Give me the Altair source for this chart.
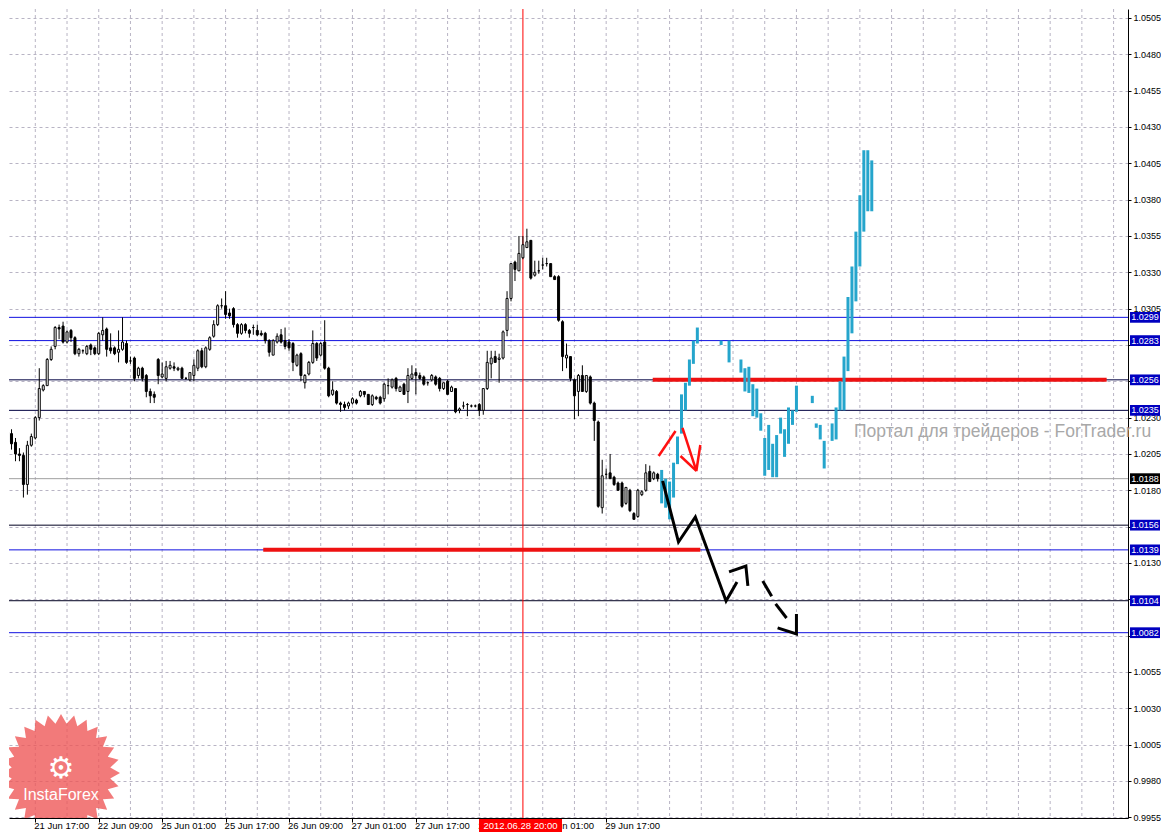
import math
import altair as alt
import pandas as pd

# ---------------- data ----------------
CANDLE_FIRST_IDX = -7  # bar index of first visible H1 candle (0 = 21 Jun 17:00)

opens = [1.0213,1.0219,1.0213,1.0205,1.0204,1.0184,1.0211,1.0216,1.0230,1.0249,
         1.0252,1.0270,1.0279,1.0292,1.0293,1.0282,1.0290,1.0285,1.0274,1.0276,
         1.0274,1.0280,1.0278,1.0274,1.0287,1.0291,1.0278,1.0278,1.0275,1.0277,
         1.0281,1.0269,1.0271,1.0259,1.0264,1.0259,1.0248,1.0246,1.0270,1.0258,
         1.0257,1.0264,1.0265,1.0263,1.0264,1.0257,1.0256,1.0259,1.0264,1.0276,
         1.0265,1.0277,1.0286,1.0294,1.0307,1.0307,1.0302,1.0305,1.0294,1.0288,
         1.0294,1.0290,1.0292,1.0290,1.0288,1.0288,1.0283,1.0273,1.0282,1.0287,
         1.0283,1.0282,1.0281,1.0266,1.0274,1.0254,1.0260,1.0268,1.0281,1.0273,
         1.0282,1.0264,1.0246,1.0248,1.0240,1.0239,1.0238,1.0240,1.0242,1.0245,
         1.0248,1.0246,1.0239,1.0244,1.0244,1.0243,1.0252,1.0251,1.0257,1.0248,
         1.0253,1.0248,1.0257,1.0261,1.0259,1.0258,1.0254,1.0256,1.0258,1.0257,
         1.0250,1.0255,1.0248,1.0250,1.0235,1.0238,1.0239,1.0238,1.0238,1.0239,
         1.0235,1.0250,1.0267,1.0272,1.0270,1.0271,1.0290,1.0312,1.0337,1.0331,
         1.0340,1.0347,1.0352,1.0328,1.0331,1.0335,1.0336,1.0336,1.0327,1.0327,
         1.0296,1.0271,1.0272,1.0256,1.0248,1.0259,1.0248,1.0258,1.0240,1.0227,
         1.0168,1.0191,1.0192,1.0189,1.0185,1.0185,1.0171,1.0180,1.0164,1.0162,
         1.0177,1.0180,1.0193,1.0188,1.0191]

highs = [1.0224,1.0222,1.0216,1.0209,1.0206,1.0214,1.0219,1.0231,1.0264,1.0253,
         1.0271,1.0279,1.0293,1.0294,1.0296,1.0290,1.0291,1.0286,1.0278,1.0277,
         1.0280,1.0281,1.0279,1.0289,1.0299,1.0292,1.0288,1.0279,1.0290,1.0299,
         1.0283,1.0272,1.0272,1.0265,1.0265,1.0260,1.0250,1.0248,1.0271,1.0268,
         1.0269,1.0269,1.0268,1.0265,1.0265,1.0258,1.0261,1.0270,1.0277,1.0278,
         1.0279,1.0286,1.0297,1.0308,1.0312,1.0317,1.0305,1.0306,1.0295,1.0295,
         1.0295,1.0291,1.0294,1.0294,1.0290,1.0289,1.0284,1.0284,1.0288,1.0291,
         1.0292,1.0284,1.0282,1.0274,1.0275,1.0260,1.0269,1.0290,1.0282,1.0282,
         1.0297,1.0265,1.0255,1.0249,1.0241,1.0241,1.0241,1.0244,1.0243,1.0249,
         1.0248,1.0246,1.0246,1.0245,1.0245,1.0254,1.0257,1.0257,1.0258,1.0252,
         1.0254,1.0264,1.0266,1.0264,1.0261,1.0259,1.0255,1.0260,1.0259,1.0258,
         1.0254,1.0256,1.0252,1.0250,1.0237,1.0241,1.0240,1.0239,1.0239,1.0240,
         1.0250,1.0276,1.0276,1.0276,1.0274,1.0290,1.0317,1.0336,1.0338,1.0355,
         1.0355,1.0360,1.0352,1.0338,1.0338,1.0340,1.0340,1.0336,1.0328,1.0328,
         1.0297,1.0281,1.0272,1.0257,1.0260,1.0266,1.0259,1.0259,1.0241,1.0228,
         1.0201,1.0195,1.0205,1.0190,1.0186,1.0186,1.0182,1.0181,1.0165,1.0181,
         1.0180,1.0198,1.0197,1.0193,1.0192]

lows = [1.0207,1.0208,1.0200,1.0200,1.0175,1.0177,1.0210,1.0215,1.0228,1.0248,
        1.0252,1.0269,1.0277,1.0284,1.0281,1.0281,1.0282,1.0273,1.0272,1.0274,
        1.0273,1.0273,1.0273,1.0273,1.0283,1.0272,1.0274,1.0273,1.0268,1.0276,
        1.0267,1.0267,1.0255,1.0257,1.0255,1.0244,1.0240,1.0240,1.0253,1.0257,
        1.0255,1.0263,1.0262,1.0262,1.0257,1.0256,1.0255,1.0255,1.0262,1.0264,
        1.0264,1.0276,1.0285,1.0293,1.0305,1.0298,1.0298,1.0292,1.0285,1.0287,
        1.0288,1.0285,1.0287,1.0286,1.0286,1.0281,1.0272,1.0273,1.0281,1.0281,
        1.0277,1.0276,1.0262,1.0265,1.0255,1.0250,1.0259,1.0267,1.0269,1.0272,
        1.0263,1.0244,1.0245,1.0239,1.0234,1.0235,1.0236,1.0239,1.0239,1.0244,
        1.0244,1.0239,1.0238,1.0242,1.0239,1.0241,1.0246,1.0250,1.0248,1.0248,
        1.0246,1.0240,1.0256,1.0246,1.0256,1.0252,1.0252,1.0255,1.0252,1.0248,
        1.0249,1.0246,1.0248,1.0233,1.0233,1.0236,1.0231,1.0237,1.0237,1.0231,
        1.0232,1.0249,1.0257,1.0268,1.0254,1.0270,1.0286,1.0310,1.0324,1.0331,
        1.0339,1.0347,1.0325,1.0327,1.0329,1.0332,1.0334,1.0327,1.0325,1.0296,
        1.0262,1.0264,1.0255,1.0229,1.0231,1.0248,1.0247,1.0239,1.0214,1.0168,
        1.0164,1.0188,1.0188,1.0183,1.0180,1.0168,1.0170,1.0165,1.0160,1.0161,
        1.0176,1.0179,1.0186,1.0187,1.0186]

closes = [1.0220,1.0212,1.0205,1.0204,1.0184,1.0211,1.0217,1.0230,1.0250,1.0252,
          1.0270,1.0277,1.0292,1.0291,1.0282,1.0289,1.0285,1.0274,1.0277,1.0276,
          1.0279,1.0277,1.0274,1.0288,1.0290,1.0277,1.0276,1.0274,1.0277,1.0282,
          1.0268,1.0269,1.0257,1.0264,1.0257,1.0248,1.0245,1.0244,1.0259,1.0260,
          1.0265,1.0266,1.0264,1.0264,1.0257,1.0257,1.0261,1.0266,1.0276,1.0265,
          1.0278,1.0285,1.0294,1.0307,1.0307,1.0301,1.0300,1.0294,1.0288,1.0294,
          1.0290,1.0288,1.0292,1.0287,1.0287,1.0283,1.0275,1.0283,1.0286,1.0282,
          1.0279,1.0278,1.0268,1.0273,1.0259,1.0259,1.0268,1.0281,1.0271,1.0281,
          1.0264,1.0245,1.0249,1.0240,1.0239,1.0237,1.0240,1.0243,1.0240,1.0248,
          1.0246,1.0239,1.0245,1.0243,1.0240,1.0253,1.0252,1.0256,1.0250,1.0251,
          1.0246,1.0259,1.0260,1.0259,1.0257,1.0253,1.0254,1.0259,1.0253,1.0250,
          1.0254,1.0246,1.0251,1.0234,1.0236,1.0238,1.0239,1.0238,1.0238,1.0235,
          1.0250,1.0268,1.0271,1.0268,1.0271,1.0289,1.0312,1.0336,1.0332,1.0343,
          1.0349,1.0351,1.0326,1.0330,1.0331,1.0335,1.0336,1.0327,1.0325,1.0297,
          1.0272,1.0273,1.0257,1.0245,1.0259,1.0248,1.0259,1.0240,1.0228,1.0169,
          1.0190,1.0191,1.0188,1.0184,1.0180,1.0169,1.0182,1.0166,1.0160,1.0180,
          1.0179,1.0192,1.0186,1.0192,1.0188]

# projected (blue) bars: bar index, low, high
proj_idx  = [158,159,160,161,162,163,164,165,166,167,173,175,178,179,180,181,182,183,184,185,
             186,187,188,189,190,191,192,196,197,198,199,201,202,203,204,205,206,207,208,209,210,211]
proj_low  = [1.0171,1.0168,1.0160,1.0175,1.0198,1.0219,1.0235,1.0252,1.0267,1.0281,1.0280,1.0268,
             1.0261,1.0248,1.0247,1.0231,1.0230,1.0221,1.0190,1.0194,1.0189,1.0189,1.0219,1.0203,
             1.0212,1.0225,1.0234,1.0240,1.0223,1.0215,1.0195,1.0214,1.0215,1.0235,1.0235,1.0262,
             1.0288,1.0310,1.0334,1.0358,1.0372,1.0372]
proj_high = [1.0194,1.0188,1.0186,1.0199,1.0217,1.0246,1.0254,1.0270,1.0283,1.0292,1.0283,1.0283,
             1.0270,1.0264,1.0265,1.0253,1.0250,1.0233,1.0216,1.0225,1.0212,1.0218,1.0230,1.0222,
             1.0237,1.0235,1.0252,1.0245,1.0226,1.0225,1.0214,1.0226,1.0237,1.0255,1.0272,1.0313,
             1.0334,1.0358,1.0383,1.0414,1.0414,1.0407]

# horizontal levels
level_prices = [1.0299, 1.0283, 1.0256, 1.0235, 1.0156, 1.0139, 1.0104, 1.0082]
level_colors = ["#1010E0", "#1010E0", "#000040", "#000040", "#000020", "#1010E0", "#000020", "#1010E0"]
bid_price = 1.0188

# red thick segments: start idx, end idx, price
red_seg_start = [155.75, 57.5]
red_seg_end = [270.25, 167.75]
red_seg_price = [1.0256, 1.0139]

# hand-drawn arrows (segment id, bar index, price)
red_arrow_seg = [1, 1, 2, 2, 2, 3, 3]
red_arrow_idx = [157.25, 161.5, 163.25, 166.75, 167.75, 162.75, 166.75]
red_arrow_px = [1.02036, 1.02208, 1.02229, 1.01933, 1.02112, 1.02036, 1.01933]

blk_arrow_seg = [1, 1, 1, 1, 1, 2, 2, 2, 3, 3, 4, 4, 5, 5, 5]
blk_arrow_idx = [158.25, 162.25, 166.5, 174.25, 177.0, 175.0, 179.25, 179.75,
                 183.5, 185.75, 186.75, 189.5, 187.25, 192.0, 192.0]
blk_arrow_px = [1.01864, 1.01444, 1.01616, 1.01038, 1.01169, 1.01238, 1.01279, 1.01142,
                1.01176, 1.01070, 1.01018, 1.00921, 1.00853, 1.00811, 1.00949]

# axes
y_ticks = [0.9955, 0.9980, 1.0005, 1.0030, 1.0055, 1.0080, 1.0105, 1.0130, 1.0155, 1.0180,
           1.0205, 1.0230, 1.0255, 1.0280, 1.0305, 1.0330, 1.0355, 1.0380, 1.0405, 1.0430,
           1.0455, 1.0480, 1.0505]
y_ticks_hidden = ["1.0080", "1.0105", "1.0155", "1.0255", "1.0280"]  # covered by level boxes
x_label_idx = [0, 16, 32, 48, 64, 80, 96, 112, 128, 144]
x_labels = ["21 Jun 17:00", "22 Jun 09:00", "25 Jun 01:00", "25 Jun 17:00", "26 Jun 09:00",
            "27 Jun 01:00", "27 Jun 17:00", "2", "n 01:00", "29 Jun 17:00"]
x_label_shift = [0, 0, 0, 0, 0, 0, 0, 0, 5.2, 0]  # visible part of labels partly covered by the cursor box
x_grid_idx = list(range(0, 273, 8))
cross_idx = 123
cross_label = "2012.06.28 20:00"
watermark = "Портал для трейдеров - ForTrader.ru"

# ---------------- chart ----------------
W, H = 1119, 809
PX = 0.0025 / 36.33          # price per pixel
Y_TOP = 1.051119
FONT = "Liberation Sans"
xs = alt.Scale(domain=[-5.375, 274.375], nice=False, zero=False)
ys = alt.Scale(domain=[Y_TOP - H * PX, Y_TOP], nice=False, zero=False)

hidden_expr = " || ".join([f"datum.label == '{t}'" for t in y_ticks_hidden])
xaxis = alt.Axis(orient="bottom", values=x_label_idx, labels=False, ticks=True, tickSize=4,
                 tickColor="black", domainColor="black", grid=False, title=None)
yaxis = alt.Axis(orient="right", values=y_ticks, format=".4f", labelFont=FONT, labelFontSize=9,
                 labelColor="black", tickColor="black", tickSize=3, domainColor="black",
                 grid=True, gridColor="#B8B4C4", gridDash=[3, 3], labelPadding=2, title=None,
                 labelOverlap=False, labelFlush=False,
                 labelExpr=f"({hidden_expr}) ? '' : datum.label")


def X(f):
    return alt.X(f, type="quantitative", scale=xs, axis=xaxis)


def Y(f):
    return alt.Y(f, type="quantitative", scale=ys, axis=yaxis)


one = pd.DataFrame({"a": [0]})

candles = pd.DataFrame({
    "idx": list(range(CANDLE_FIRST_IDX, CANDLE_FIRST_IDX + len(opens))),
    "open": opens, "high": highs, "low": lows, "close": closes,
})
proj = pd.DataFrame({"idx": proj_idx, "low": proj_low, "high": proj_high})
levels = pd.DataFrame({"price": level_prices, "color": level_colors,
                       "label": [f"{p:.4f}" for p in level_prices], "bg": "#0000C0"})
labels_all = pd.concat([levels[["price", "label", "bg"]],
                        pd.DataFrame({"price": [bid_price], "label": [f"{bid_price:.4f}"], "bg": ["#000000"]})])
redsegs = pd.DataFrame({"s": red_seg_start, "e": red_seg_end, "price": red_seg_price})
red_arr = pd.DataFrame({"seg": red_arrow_seg, "idx": red_arrow_idx, "price": red_arrow_px})
red_arr["ord"] = range(len(red_arr))
blk_arr = pd.DataFrame({"seg": blk_arrow_seg, "idx": blk_arrow_idx, "price": blk_arrow_px})
blk_arr["ord"] = range(len(blk_arr))
xlab = pd.DataFrame({"idx": x_label_idx, "label": x_labels, "shift": x_label_shift})
xgrid = pd.DataFrame({"idx": x_grid_idx})

# star path for the logo (decoration shape)
n = 28
pts = []
for i in range(2 * n):
    r = 1.0 if i % 2 == 0 else 0.84
    a = math.pi * i / n
    pts.append(f"{r * math.sin(a):.3f},{-r * math.cos(a):.3f}")
star = "M" + "L".join(pts) + "Z"

logo = alt.Chart(one).mark_point(shape=star, size=118 ** 2, filled=True, fill="#EE5555",
                                 opacity=0.78, strokeWidth=0, clip=True).encode(
    x=alt.value(52), y=alt.value(764))
logo_icon = alt.Chart(one).mark_text(text="⚙", font="DejaVu Sans", fontSize=30, color="white").encode(
    x=alt.value(52), y=alt.value(760))
logo_text = alt.Chart(one).mark_text(text="InstaForex", font=FONT, fontSize=16, color="white").encode(
    x=alt.value(52), y=alt.value(786))

grid_v = alt.Chart(xgrid).mark_rule(color="#B8B4C4", strokeDash=[3, 3], strokeWidth=1).encode(
    x=X("idx"))

level_rules = alt.Chart(levels).mark_rule(strokeWidth=1).encode(
    y=Y("price"), color=alt.Color("color:N", scale=None))
bid_rule = alt.Chart(pd.DataFrame({"price": [bid_price]})).mark_rule(color="#A0A0A0", strokeWidth=1).encode(
    y=Y("price"))
cross = alt.Chart(pd.DataFrame({"idx": [cross_idx]})).mark_rule(color="#FF0000", strokeWidth=1).encode(
    x=X("idx"))

red_h = alt.Chart(redsegs).mark_rule(color="#EE1111", strokeWidth=4).encode(
    x=X("s"), x2="e", y=Y("price"))

wicks = alt.Chart(candles).mark_rule(color="black", strokeWidth=1, clip=True).encode(
    x=X("idx"), y=Y("low"), y2="high")
bodies = alt.Chart(candles).mark_bar(size=2, stroke="black", strokeWidth=1, clip=True).encode(
    x=X("idx"), y=Y("open"), y2="close",
    fill=alt.condition("datum.close >= datum.open", alt.value("white"), alt.value("black")))

proj_bars = alt.Chart(proj).mark_bar(size=3, color="#25A5CC").encode(
    x=X("idx"), y=Y("low"), y2="high")

red_lines = alt.Chart(red_arr).mark_line(color="#FF1010", strokeWidth=2.5).encode(
    x=X("idx"), y=Y("price"), detail="seg:N", order="ord:Q")
blk_lines = alt.Chart(blk_arr).mark_line(color="black", strokeWidth=3).encode(
    x=X("idx"), y=Y("price"), detail="seg:N", order="ord:Q")

wm = alt.Chart(one).mark_text(text=watermark, font=FONT, fontSize=17.5, color="#A8A8A8",
                              align="left", baseline="middle").encode(
    x=alt.value(845), y=alt.value(423))

label_boxes = alt.Chart(labels_all).transform_calculate(
    top="datum.price + 0.00037", bot="datum.price - 0.00037").mark_rect().encode(
    y=Y("top:Q"), y2="bot:Q", x=alt.value(1121), x2=alt.value(1151),
    color=alt.Color("bg:N", scale=None))
label_text = alt.Chart(labels_all).mark_text(font=FONT, fontSize=9, color="white",
                                             align="center", baseline="middle").encode(
    y=Y("price"), x=alt.value(1136), text="label:N")

x_text = alt.Chart(xlab).transform_calculate(pos="datum.idx + datum.shift").mark_text(
    font=FONT, fontSize=9.5, color="black", align="left", baseline="middle", dx=-1).encode(
    x=X("pos:Q"), y=alt.value(H + 8), text="label:N")

cross_box = alt.Chart(one).mark_rect(color="#FF0000").encode(
    x=alt.value(470), x2=alt.value(553), y=alt.value(H + 1), y2=alt.value(H + 14))
cross_text = alt.Chart(one).mark_text(text=cross_label, font=FONT, fontSize=9.5, color="white",
                                      align="center", baseline="middle").encode(
    x=alt.value(511.5), y=alt.value(H + 8))

chart = alt.layer(
    grid_v, logo, logo_icon, logo_text, level_rules, bid_rule, cross, red_h, wm,
    wicks, bodies, proj_bars, red_lines, blk_lines,
    label_boxes, label_text, x_text, cross_box, cross_text,
).properties(width=W, height=H, padding=0, background="white").configure_view(strokeWidth=0)

chart.save("out.html", embed_options={"renderer": "svg", "actions": False})
